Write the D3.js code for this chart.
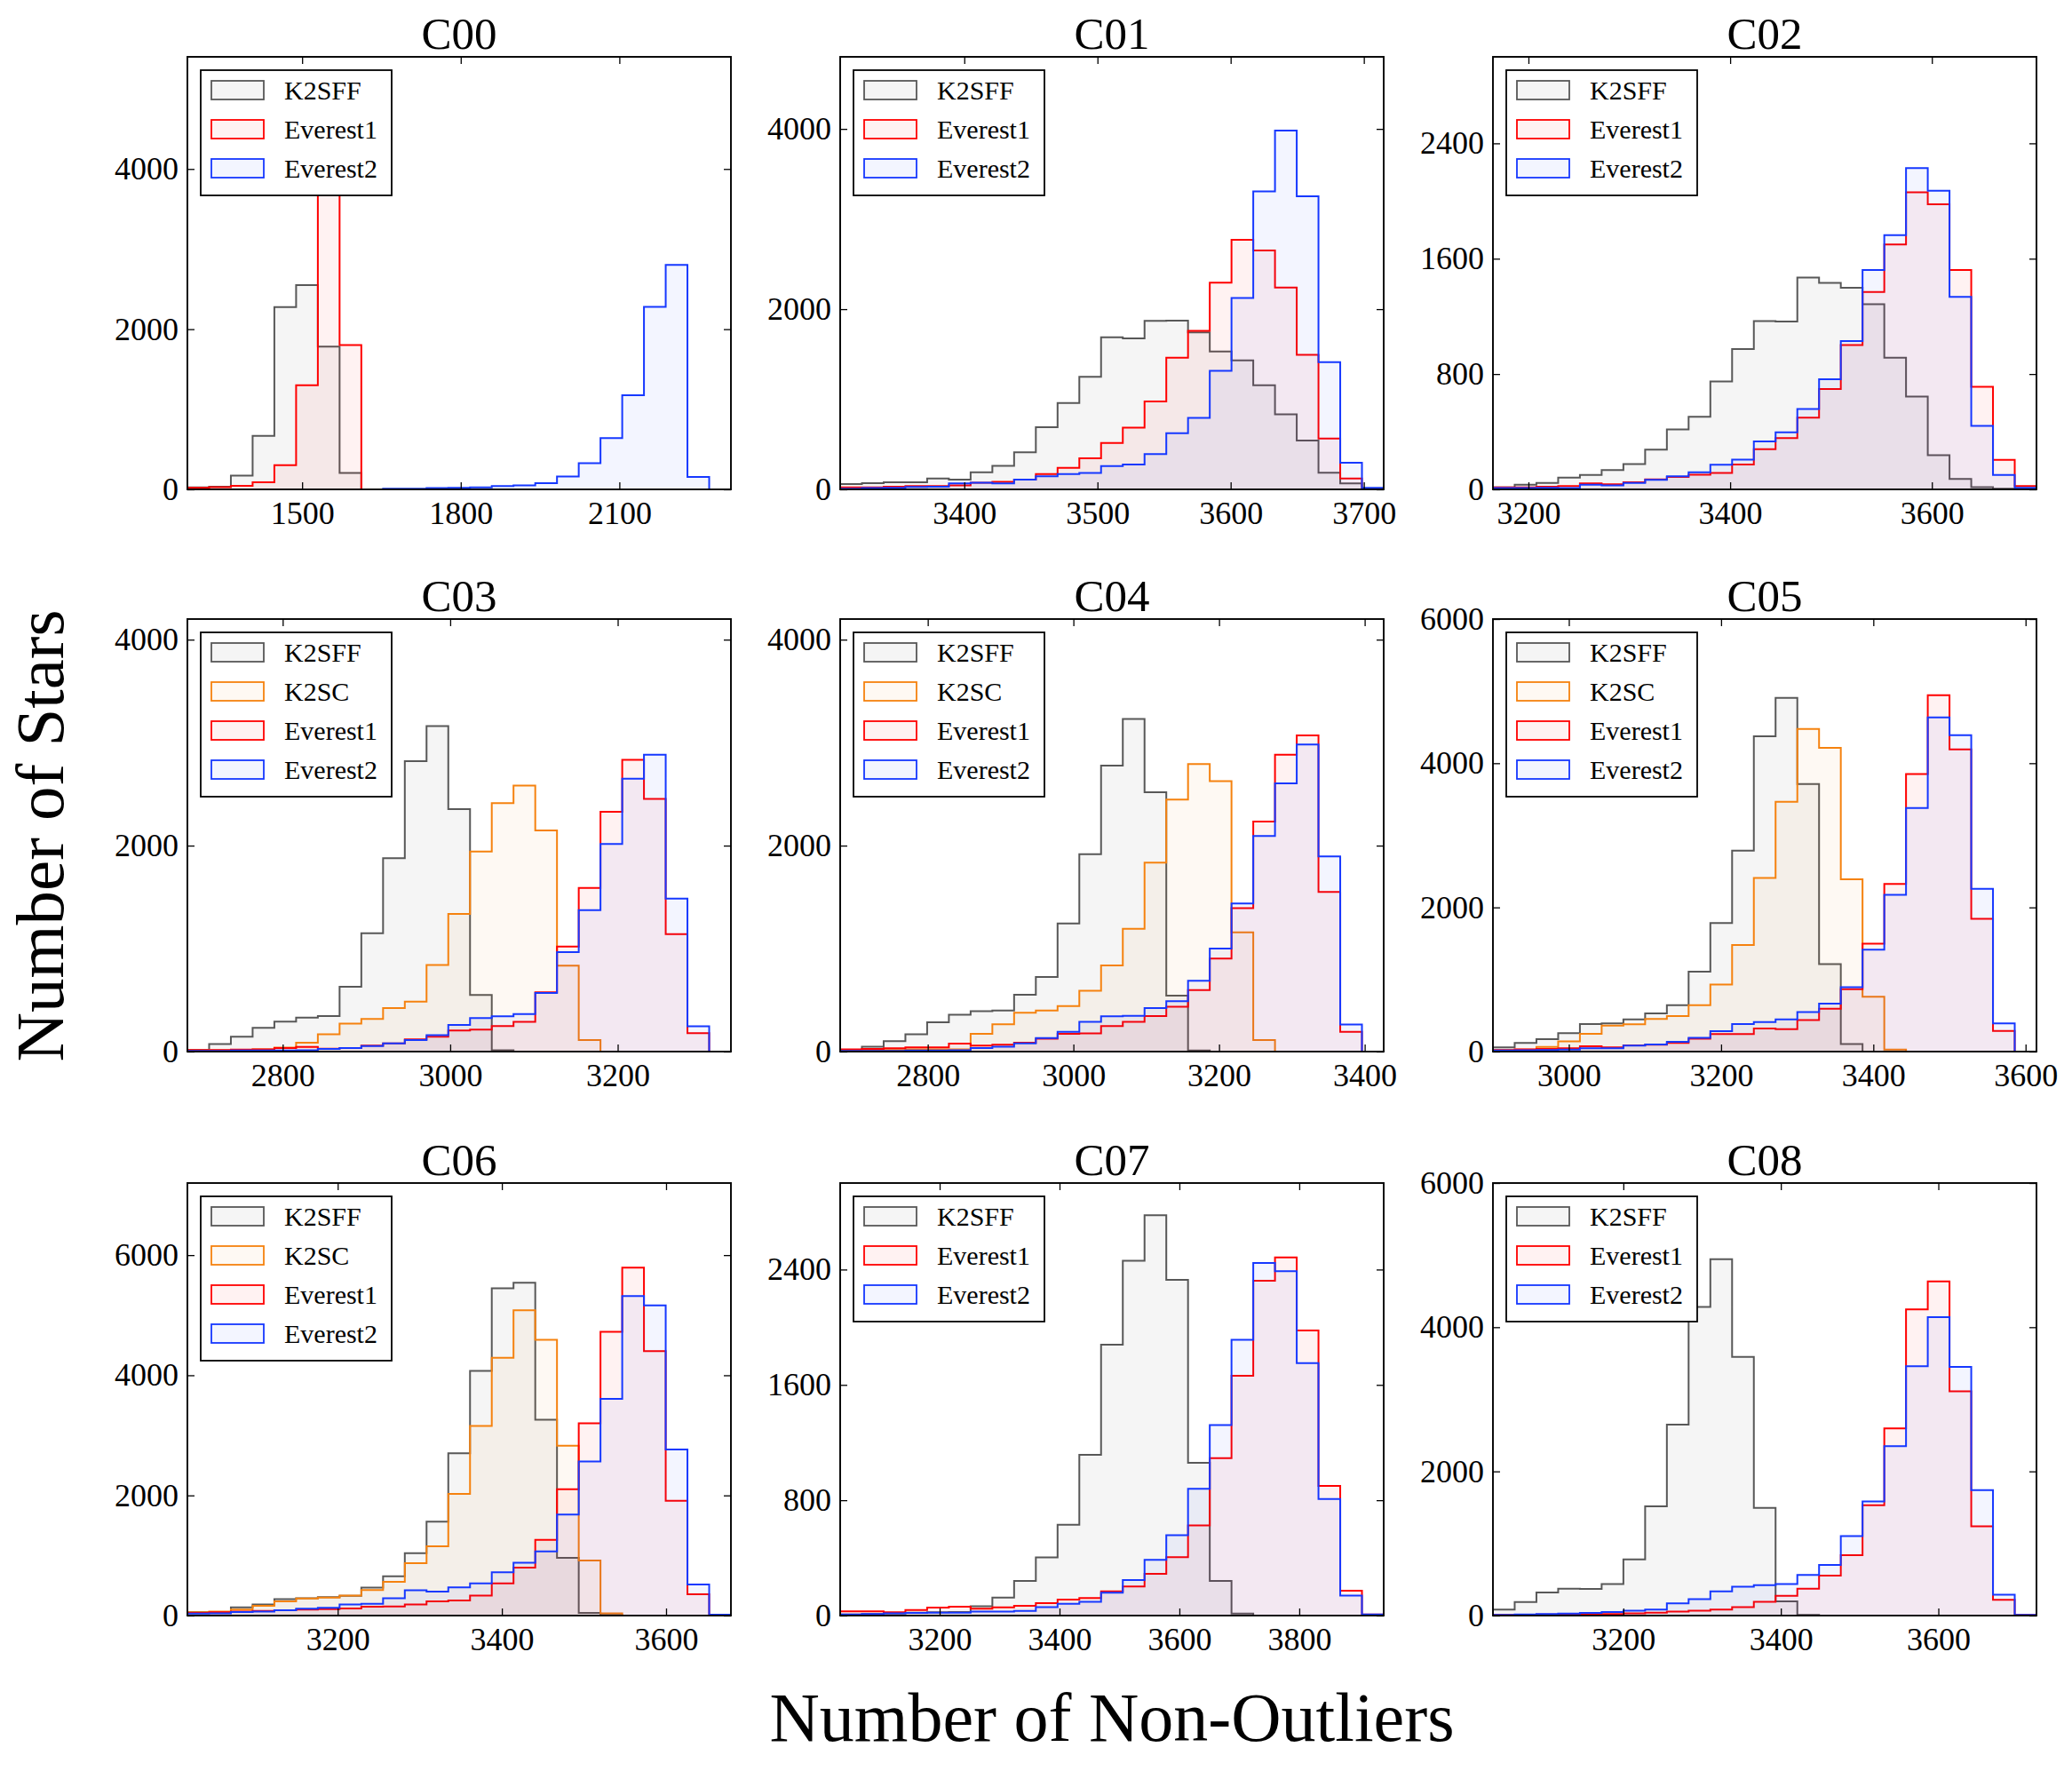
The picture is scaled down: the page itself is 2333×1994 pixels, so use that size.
<!DOCTYPE html>
<html>
<head>
<meta charset="utf-8">
<script src="https://cdnjs.cloudflare.com/ajax/libs/d3/7.8.5/d3.min.js"></script>
<style>
  body { margin: 0; background: #fff; }
  svg { display: block; }
</style>
</head>
<body>
<svg id="chart" width="2333" height="1994"></svg>
<script>
// ---------------- DATA ----------------
const campaigns = ["C00", "C01", "C02", "C03", "C04", "C05", "C06", "C07", "C08"];
// histogram range (first and last bin edge) for each campaign; 25 bins each
const binRanges = [
  [1283, 2311], [3306.8, 3714.9], [3164.8, 3703.7],
  [2686.2, 3335.2], [2679.7, 3426.1], [2900.3, 3614.3],
  [3016.9, 3679.0], [3034.0, 3940.9], [3034.4, 3724.6]
];
const yMax = [5400, 4800, 3000, 4200, 4200, 6000, 7200, 3000, 6000];
const xTicks = [
  [1500, 1800, 2100], [3400, 3500, 3600, 3700], [3200, 3400, 3600],
  [2800, 3000, 3200], [2800, 3000, 3200, 3400], [3000, 3200, 3400, 3600],
  [3200, 3400, 3600], [3200, 3400, 3600, 3800], [3200, 3400, 3600]
];
const yTicks = [
  [0, 2000, 4000], [0, 2000, 4000], [0, 800, 1600, 2400],
  [0, 2000, 4000], [0, 2000, 4000], [0, 2000, 4000, 6000],
  [0, 2000, 4000, 6000], [0, 800, 1600, 2400], [0, 2000, 4000, 6000]
];

const c00_k2sff = [25,33,172,668,2275,2549,1783,205,0,0,0,0,0,0,0,0,0,0,0,0,0,0,0,0,0];
const c00_everest1 = [20,29,45,90,303,1299,4500,1803,0,0,0,0,0,0,0,0,0,0,0,0,0,0,0,0,0];
const c00_everest2 = [0,0,0,0,0,0,0,0,0,8,8,16,20,25,41,49,78,160,328,639,1176,2278,2803,156,0];

const c01_k2sff = [58,69,80,80,120,109,189,262,412,689,958,1250,1687,1676,1869,1873,1741,1530,1432,1155,834,543,186,66,7];
const c01_everest1 = [22,22,29,36,36,44,73,84,109,171,240,346,514,685,976,1461,1760,2295,2769,2652,2240,1494,565,120,7];
const c01_everest2 = [7,15,18,26,29,66,73,66,109,146,171,182,259,277,393,623,794,1315,2124,3308,3982,3253,1413,295,18];

const c02_k2sff = [14,32,45,82,100,134,175,275,416,503,748,974,1167,1165,1469,1433,1399,1285,914,644,237,73,16,5,0];
const c02_everest1 = [14,14,18,23,41,36,50,70,86,102,114,173,278,355,498,696,1001,1369,1699,2061,1977,1522,712,205,23];
const c02_everest2 = [9,9,11,9,32,27,45,66,91,118,171,207,332,396,557,764,1028,1522,1763,2229,2072,1335,441,100,11];

const c03_k2sff = [16,73,144,230,291,329,345,629,1150,1879,2821,3160,2355,550,13,0,0,0,0,0,0,0,0,0,0];
const c03_k2sc = [13,13,16,22,38,86,169,272,316,422,486,840,1336,1943,2412,2582,2147,834,112,0,0,0,0,0,0];
const c03_everest1 = [16,16,19,22,35,45,29,35,58,80,118,144,204,214,249,288,575,1019,1588,2329,2834,2454,1141,179,0];
const c03_everest2 = [6,6,10,10,10,13,26,35,54,80,112,160,259,326,342,364,569,965,1374,2016,2649,2882,1486,246,0];

const c04_k2sff = [13,48,102,169,284,358,393,399,553,725,1243,1917,2776,3230,2518,543,10,0,0,0,0,0,0,0,0];
const c04_k2sc = [10,13,16,22,22,22,173,265,377,399,441,591,837,1192,1834,2447,2792,2626,1157,112,0,0,0,0,0];
const c04_everest1 = [22,26,32,42,42,77,58,67,86,125,173,176,249,288,345,435,597,904,1393,2233,2882,3070,1550,192,0];
const c04_everest2 = [6,6,6,10,10,13,35,48,80,131,192,288,342,348,422,489,687,1000,1438,2093,2604,2981,1895,262,0];

const c05_k2sff = [59,119,173,255,383,392,447,529,643,1108,1783,2787,4374,4908,3713,1213,105,0,0,0,0,0,0,0,0];
const c05_k2sc = [18,27,64,141,246,360,379,452,493,643,930,1478,2408,3466,4474,4214,2390,762,27,0,0,0,0,0,0];
const c05_everest1 = [23,32,36,46,73,59,87,96,119,178,242,242,319,310,438,593,867,1496,2326,3849,4944,4192,1843,287,0];
const c05_everest2 = [14,18,23,27,46,46,82,100,137,192,283,383,410,447,547,666,894,1414,2176,3380,4634,4388,2258,392,0];

const c06_k2sff = [60,60,137,186,273,289,306,328,464,655,1037,1562,2703,4073,5449,5542,3260,961,44,11,0,0,0,0,0];
const c06_k2sc = [55,66,98,164,235,284,300,333,426,562,874,1152,2026,3156,4292,5083,4592,2828,917,38,0,0,0,0,0];
const c06_everest1 = [44,55,66,76,87,98,109,120,147,153,186,235,251,333,535,797,1261,2102,3200,4723,5793,4401,1911,355,11];
const c06_everest2 = [33,38,60,66,87,115,131,186,197,289,420,399,470,535,721,879,1070,1682,2566,3609,5318,5165,2763,519,16];

const c07_k2sff = [7,11,16,20,23,25,64,125,241,403,630,1115,1879,2461,2777,2329,1060,241,14,0,0,0,0,0,0];
const c07_everest1 = [30,30,23,39,55,61,48,57,68,86,111,121,168,202,289,405,626,1092,1663,2322,2484,1977,899,173,7];
const c07_everest2 = [7,11,16,18,20,20,27,27,32,59,82,96,159,246,387,557,880,1322,1913,2445,2388,1751,808,139,7];

const c08_k2sff = [82,187,319,373,369,437,779,1516,2650,4280,4945,3588,1493,196,9,0,0,0,0,0,0,0,0,0,0];
const c08_everest1 = [9,9,14,14,18,23,32,41,55,68,82,118,191,273,373,555,838,1530,2595,4248,4635,3110,1238,219,9];
const c08_everest2 = [9,14,23,27,36,50,68,82,168,228,337,401,423,437,565,701,1102,1584,2349,3460,4139,3451,1739,291,9];

const seriesColors = { "K2SFF": "#585858", "K2SC": "#f5820f", "Everest1": "#ff0000", "Everest2": "#1638ff" };
const seriesFillOpacity = { "K2SFF": 0.06, "K2SC": 0.05, "Everest1": 0.05, "Everest2": 0.05 };

const panelSeries = [
  [["K2SFF", c00_k2sff], ["Everest1", c00_everest1], ["Everest2", c00_everest2]],
  [["K2SFF", c01_k2sff], ["Everest1", c01_everest1], ["Everest2", c01_everest2]],
  [["K2SFF", c02_k2sff], ["Everest1", c02_everest1], ["Everest2", c02_everest2]],
  [["K2SFF", c03_k2sff], ["K2SC", c03_k2sc], ["Everest1", c03_everest1], ["Everest2", c03_everest2]],
  [["K2SFF", c04_k2sff], ["K2SC", c04_k2sc], ["Everest1", c04_everest1], ["Everest2", c04_everest2]],
  [["K2SFF", c05_k2sff], ["K2SC", c05_k2sc], ["Everest1", c05_everest1], ["Everest2", c05_everest2]],
  [["K2SFF", c06_k2sff], ["K2SC", c06_k2sc], ["Everest1", c06_everest1], ["Everest2", c06_everest2]],
  [["K2SFF", c07_k2sff], ["Everest1", c07_everest1], ["Everest2", c07_everest2]],
  [["K2SFF", c08_k2sff], ["Everest1", c08_everest1], ["Everest2", c08_everest2]]
];

// ---------------- LAYOUT ----------------
const FONT = "'Liberation Serif', 'DejaVu Serif', serif";
const colLeft = [211, 946, 1681];
const rowTop = [64, 697, 1332];
const PW = 612, PH = 487;
const NBINS = 25;

const svg = d3.select("#chart");
const defs = svg.append("defs");

campaigns.forEach((name, idx) => {
  const left = colLeft[idx % 3];
  const top = rowTop[Math.floor(idx / 3)];
  const range = binRanges[idx];
  const x = d3.scaleLinear().domain(range).range([left, left + PW]);
  const y = d3.scaleLinear().domain([0, yMax[idx]]).range([top + PH, top]);
  const edges = d3.range(NBINS + 1).map(i => range[0] + i * (range[1] - range[0]) / NBINS);

  const g = svg.append("g");
  const cid = "clip" + idx;
  defs.append("clipPath").attr("id", cid)
    .append("rect").attr("x", left).attr("y", top).attr("width", PW).attr("height", PH);

  const gh = g.append("g").attr("clip-path", `url(#${cid})`);
  const line = d3.line().x(d => x(d[0])).y(d => y(d[1]));

  panelSeries[idx].forEach(([sname, vals]) => {
    let i0 = vals.findIndex(v => v > 0);
    let i1 = vals.length - 1;
    while (i1 > 0 && vals[i1] <= 0) i1--;
    if (i0 < 0) return;
    const pts = [[edges[i0], 0]];
    for (let i = i0; i <= i1; i++) {
      pts.push([edges[i], vals[i]]);
      pts.push([edges[i + 1], vals[i]]);
    }
    pts.push([edges[i1 + 1], 0]);
    const col = seriesColors[sname];
    gh.append("path").attr("d", line(pts) + "Z")
      .attr("fill", col).attr("fill-opacity", seriesFillOpacity[sname]).attr("stroke", "none");
    gh.append("path").attr("d", line(pts))
      .attr("fill", "none").attr("stroke", col).attr("stroke-width", 2)
      .attr("stroke-linejoin", "miter");
  });

  // axes (ticks inward on all four sides)
  const styleAxis = sel => {
    sel.select(".domain").remove();
    sel.attr("font-family", FONT).attr("font-size", 36);
    sel.selectAll(".tick line").attr("stroke", "#000").attr("stroke-width", 1.3);
    sel.selectAll(".tick text").attr("fill", "#000");
  };
  g.append("g").attr("transform", `translate(0,${top + PH})`)
    .call(d3.axisBottom(x).tickValues(xTicks[idx]).tickSizeInner(-8).tickSizeOuter(0)
      .tickPadding(13).tickFormat(d3.format("d")))
    .call(styleAxis);
  g.append("g").attr("transform", `translate(0,${top})`)
    .call(d3.axisTop(x).tickValues(xTicks[idx]).tickSizeInner(-8).tickSizeOuter(0).tickFormat(() => ""))
    .call(styleAxis);
  g.append("g").attr("transform", `translate(${left},0)`)
    .call(d3.axisLeft(y).tickValues(yTicks[idx]).tickSizeInner(-8).tickSizeOuter(0)
      .tickPadding(10).tickFormat(d3.format("d")))
    .call(styleAxis);
  g.append("g").attr("transform", `translate(${left + PW},0)`)
    .call(d3.axisRight(y).tickValues(yTicks[idx]).tickSizeInner(-8).tickSizeOuter(0).tickFormat(() => ""))
    .call(styleAxis);

  // frame
  g.append("rect").attr("x", left).attr("y", top).attr("width", PW).attr("height", PH)
    .attr("fill", "none").attr("stroke", "#000").attr("stroke-width", 1.9);

  // title
  g.append("text").attr("x", left + PW / 2).attr("y", top - 9)
    .attr("text-anchor", "middle").attr("font-family", FONT).attr("font-size", 51)
    .attr("fill", "#000").text(name);

  // legend
  const n = panelSeries[idx].length;
  const lg = g.append("g").attr("transform", `translate(${left + 15},${top + 15})`);
  lg.append("rect").attr("width", 215).attr("height", 9 + 44 * n)
    .attr("fill", "#fff").attr("stroke", "#000").attr("stroke-width", 1.8);
  panelSeries[idx].forEach(([sname], i) => {
    const col = seriesColors[sname];
    lg.append("rect").attr("x", 12).attr("y", 12 + 44 * i).attr("width", 59).attr("height", 21)
      .attr("fill", col).attr("fill-opacity", seriesFillOpacity[sname])
      .attr("stroke", col).attr("stroke-width", 1.8);
    lg.append("text").attr("x", 94).attr("y", 12 + 44 * i + 21)
      .attr("font-family", FONT).attr("font-size", 30).attr("fill", "#000").text(sname);
  });
});

// axis labels
svg.append("text").attr("transform", "translate(71,941) rotate(-90)")
  .attr("text-anchor", "middle").attr("font-family", FONT).attr("font-size", 77)
  .attr("fill", "#000").text("Number of Stars");
svg.append("text").attr("x", 1252).attr("y", 1960)
  .attr("text-anchor", "middle").attr("font-family", FONT).attr("font-size", 78)
  .attr("fill", "#000").text("Number of Non-Outliers");
</script>
</body>
</html>
